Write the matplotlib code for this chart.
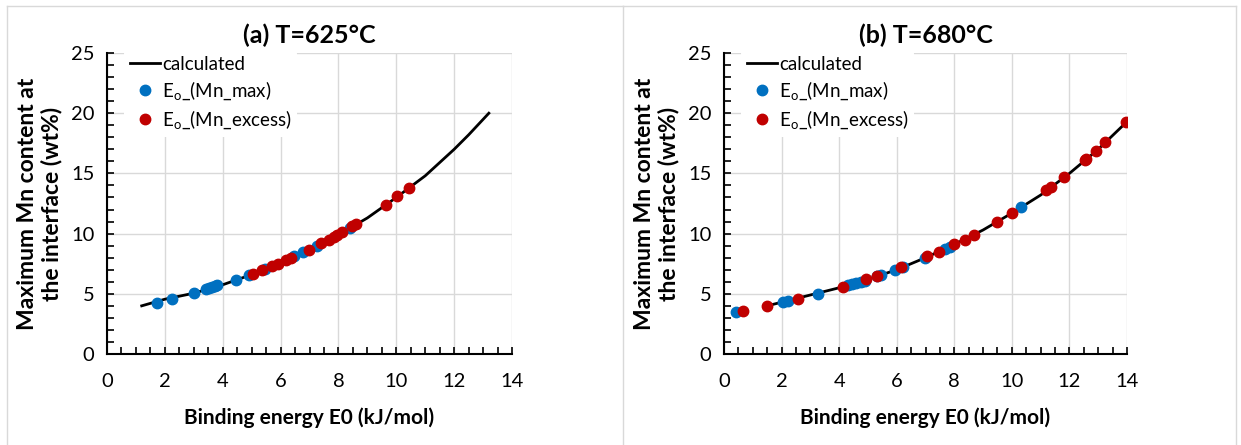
import numpy as np
import matplotlib
matplotlib.use('Agg')
import matplotlib.pyplot as plt
from matplotlib.ticker import MultipleLocator
from matplotlib.lines import Line2D

plt.rcParams['font.family'] = ['Lato', 'DejaVu Sans']

# panel (a) T=625C
calc_a_x = [1.2, 2, 3, 4, 5, 6, 7, 8, 9, 10, 10.5, 11, 11.5, 12, 12.5, 13.2]
calc_a_y = [4.0, 4.55, 5.05, 5.75, 6.6, 7.5, 8.6, 9.9, 11.3, 13.0, 13.9, 14.8, 15.9, 17.0, 18.2, 20.0]
max_a_x = [1.73, 2.24, 3.01, 3.42, 3.52, 3.62, 3.72, 3.80, 4.46, 4.92, 5.47, 6.45, 6.79, 7.25, 8.39]
max_a_y = [4.27, 4.57, 5.04, 5.36, 5.45, 5.55, 5.62, 5.70, 6.15, 6.54, 7.05, 8.10, 8.50, 9.00, 10.45]
exc_a_x = [5.04, 5.37, 5.70, 5.90, 6.18, 6.35, 6.99, 7.40, 7.66, 7.83, 7.95, 8.12, 8.47, 8.62, 9.64, 10.02, 10.45]
exc_a_y = [6.66, 7.00, 7.30, 7.50, 7.80, 7.95, 8.60, 9.20, 9.50, 9.70, 9.85, 10.10, 10.60, 10.80, 12.40, 13.10, 13.80]

# panel (b) T=680C
calc_b_x = [1.5, 2, 3, 4, 5, 6, 7, 8, 9, 10, 11, 12, 13, 14]
calc_b_y = [4.0, 4.3, 4.9, 5.5, 6.2, 7.0, 8.0, 9.1, 10.3, 11.7, 13.2, 15.0, 17.0, 19.3]
max_b_x = [0.42, 2.06, 2.23, 3.25, 4.30, 4.45, 4.60, 4.75, 4.90, 5.30, 5.47, 5.94, 6.22, 6.98, 7.67, 7.84, 10.33]
max_b_y = [3.49, 4.30, 4.40, 4.99, 5.70, 5.80, 5.90, 6.00, 6.10, 6.50, 6.60, 7.00, 7.20, 8.00, 8.70, 8.90, 12.20]
exc_b_x = [0.65, 1.48, 2.58, 4.14, 4.95, 5.33, 6.14, 7.06, 7.46, 8.00, 8.37, 8.68, 9.50, 10.00,
           11.20, 11.37, 11.81, 12.53, 12.59, 12.91, 13.25, 13.95]
exc_b_y = [3.55, 4.00, 4.60, 5.60, 6.20, 6.50, 7.20, 8.10, 8.50, 9.10, 9.50, 9.90, 11.00, 11.70,
           13.60, 13.90, 14.70, 16.10, 16.20, 16.90, 17.60, 19.30]

titles = ['(a) T=625°C', '(b) T=680°C']
blue = '#0070C0'
red = '#C00000'

fig = plt.figure(figsize=(12.41, 4.45), dpi=100)

# panel frames
for x0, x1 in [(7, 623), (623, 1236)]:
    fig.add_artist(Line2D([x0 / 1241, x0 / 1241], [0, 1 - 6 / 445], color='#d9d9d9', lw=1))
    fig.add_artist(Line2D([x0 / 1241, x1 / 1241], [1 - 6 / 445, 1 - 6 / 445], color='#d9d9d9', lw=1))
fig.add_artist(Line2D([1236 / 1241, 1236 / 1241], [0, 1 - 6 / 445], color='#d9d9d9', lw=1))

panels = [
    (107, 405, calc_a_x, calc_a_y, max_a_x, max_a_y, exc_a_x, exc_a_y),
    (724, 403, calc_b_x, calc_b_y, max_b_x, max_b_y, exc_b_x, exc_b_y),
]

for i, (left, width, cx, cy, mx, my, ex, ey) in enumerate(panels):
    ax = fig.add_axes([left / 1241, 91 / 445, width / 1241, 301 / 445])
    ax.plot(cx, cy, color='black', lw=2, label='calculated', zorder=3)
    ax.plot(mx, my, 'o', color=blue, ms=7.5, label='E$_\\mathregular{o}$_(Mn_max)', zorder=4)
    ax.plot(ex, ey, 'o', color=red, ms=7.5, label='E$_\\mathregular{o}$_(Mn_excess)', zorder=5)

    ax.set_xlim(0, 14)
    ax.set_ylim(0, 25)
    ax.xaxis.set_major_locator(MultipleLocator(2))
    ax.xaxis.set_minor_locator(MultipleLocator(0.5))
    ax.yaxis.set_major_locator(MultipleLocator(5))
    ax.yaxis.set_minor_locator(MultipleLocator(1))
    ax.tick_params(which='both', direction='in', length=5, width=1.2, labelsize=14.5, colors='black')
    ax.tick_params(axis='x', pad=14)
    ax.tick_params(axis='y', pad=9)
    ax.grid(True, which='major', color='#d9d9d9', lw=1)
    ax.set_axisbelow(True)
    for s in ['top', 'right']:
        ax.spines[s].set_visible(False)
    for s in ['left', 'bottom']:
        ax.spines[s].set_linewidth(1.5)

    ax.set_title(titles[i], fontsize=18, fontweight='bold', pad=7)
    ax.set_xlabel('Binding energy E0 (kJ/mol)', fontsize=15, fontweight='bold', labelpad=12)
    ax.set_ylabel('Maximum Mn content at\nthe interface (wt%)', fontsize=16.5, fontweight='bold',
                  labelpad=6, linespacing=1.15)

    leg = ax.legend(loc='upper left', bbox_to_anchor=(0.02, 1.04), fontsize=13.5, frameon=True,
                    handlelength=1.6, handletextpad=0.1, borderpad=0.3, labelspacing=0.35)
    leg.get_frame().set_edgecolor('none')
    leg.get_frame().set_facecolor('white')
    leg.get_frame().set_alpha(1)

fig.savefig('out.png', dpi=100)
